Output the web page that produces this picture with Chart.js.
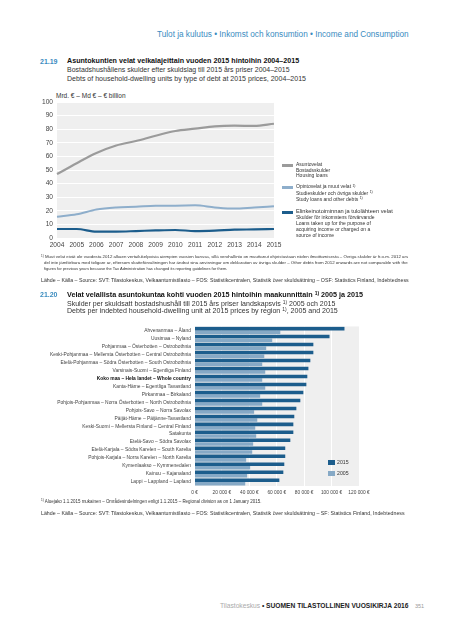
<!DOCTYPE html>
<html>
<head>
<meta charset="utf-8">
<script src="https://cdn.jsdelivr.net/npm/chart.js@4.4.0/dist/chart.umd.min.js"></script>
<style>
body { margin: 0; background: #fff; font-family: 'Liberation Sans', Arial, sans-serif; }
#page { position: relative; width: 450px; height: 640px; overflow: hidden; }
.t { position: absolute; white-space: nowrap; line-height: 1; color: #333; }
.b { font-weight: bold; color: #111; }
.blue { color: #3b8cbf; }
.sup { font-size: 0.7em; position: relative; top: -0.45em; }
.sw { position: absolute; }
#lineBox { position: absolute; left: 30px; top: 94px; width: 255px; height: 161px; }
#barBox { position: absolute; left: 36px; top: 320px; width: 340px; height: 180px; }
</style>
</head>
<body>
<div id="page">
  <div class="t blue" data-x="157" data-cy="35" data-w="252" style="font-size:7.5px">Tulot ja kulutus • Inkomst och konsumtion • Income and Consumption</div>

  <div class="t b blue" data-x="40" data-cy="62" style="font-size:7px">21.19</div>
  <div class="t b" data-x="67" data-cy="62" data-w="233" style="font-size:7px">Asuntokuntien velat velkalajeittain vuoden 2015 hintoihin 2004–2015</div>
  <div class="t" data-x="67" data-cy="70.5" data-w="223" style="font-size:6.3px">Bostadshushållens skulder efter skuldslag till 2015 års priser 2004–2015</div>
  <div class="t" data-x="67" data-cy="79" data-w="240" style="font-size:6.3px">Debts of household-dwelling units by type of debt at 2015 prices, 2004–2015</div>
  <div class="t" data-x="56" data-cy="96.7" data-w="70" style="font-size:5.6px">Mrd. € – Md € – € billion</div>

  <div id="lineBox"><canvas id="lineChart"></canvas></div>

  <div class="sw" style="left:282px;top:164px;width:11px;height:2.5px;background:#9b9b9b"></div>
  <div class="t" data-x="296" data-cy="165" style="font-size:5px">Asuntovelat</div>
  <div class="t" data-x="296" data-cy="170.5" style="font-size:5px">Bostadsskulder</div>
  <div class="t" data-x="296" data-cy="176" style="font-size:5px">Housing loans</div>

  <div class="sw" style="left:282px;top:186px;width:11px;height:2.5px;background:#8eaecb"></div>
  <div class="t" data-x="296" data-cy="187" style="font-size:5px">Opintovelat ja muut velat <span class="sup">1)</span></div>
  <div class="t" data-x="296" data-cy="193.5" style="font-size:5px">Studieskulder och övriga skulder <span class="sup">1)</span></div>
  <div class="t" data-x="296" data-cy="199.3" style="font-size:5px">Study loans and other debts <span class="sup">1)</span></div>

  <div class="sw" style="left:282px;top:211px;width:11px;height:2.5px;background:#1c5d8c"></div>
  <div class="t" data-x="296" data-cy="212.3" data-w="97" style="font-size:5px">Elinkeinotoiminnan ja tulolähteen velat</div>
  <div class="t" data-x="296" data-cy="218" style="font-size:5px">Skulder för inkomstens förvärvande</div>
  <div class="t" data-x="296" data-cy="224" style="font-size:5px">Loans taken up for the purpose of</div>
  <div class="t" data-x="296" data-cy="230" style="font-size:5px">acquiring income or charged on a</div>
  <div class="t" data-x="296" data-cy="236" style="font-size:5px">source of income</div>

  <div class="t" data-x="41" data-cy="257.5" data-w="368" style="font-size:4px"><span class="sup">1)</span> Muut velat eivät ole vuodesta 2012 alkaen vertailukelpoisia aiempien vuosien kanssa, sillä verohallinto on muuttanut ohjeistustaan niiden ilmoittamisesta – Övriga skulder är fr.o.m. 2012 års</div>
  <div class="t" data-x="44" data-cy="263.8" data-w="365" style="font-size:4px">del inte jämförbara med tidigare år, eftersom skatteförvaltningen har ändrat sina anvisningar om deklaration av övriga skulder – Other debts from 2012 onwards are not comparable with the</div>
  <div class="t" data-x="44" data-cy="269.4" style="font-size:4px">figures for previous years because the Tax Administration has changed its reporting guidelines for them.</div>
  <div class="t" data-x="41" data-cy="281" data-w="368" style="font-size:4.5px">Lähde – Källa – Source: SVT: Tilastokeskus, Velkaantumistilasto – FOS: Statistikcentralen, Statistik över skuldsättning – OSF: Statistics Finland, Indebtedness</div>

  <div class="t b blue" data-x="40" data-cy="295" style="font-size:7px">21.20</div>
  <div class="t b" data-x="67" data-cy="295" data-w="296" style="font-size:7px">Velat velallista asuntokuntaa kohti vuoden 2015 hintoihin maakunnittain <span class="sup">1)</span> 2005 ja 2015</div>
  <div class="t" data-x="67" data-cy="303.7" data-w="269" style="font-size:6.3px">Skulder per skuldsatt bostadshushåll till 2015 års priser landskapsvis <span class="sup">1)</span> 2005 och 2015</div>
  <div class="t" data-x="67" data-cy="311.5" data-w="271" style="font-size:6.3px">Debts per indebted household-dwelling unit at 2015 prices by region <span class="sup">1)</span>, 2005 and 2015</div>

  <div id="barBox"><canvas id="barChart"></canvas></div>

  <div class="sw" style="left:328px;top:460px;width:6.5px;height:5px;background:#1c5d8c"></div>
  <div class="t" data-x="337" data-cy="462.3" style="font-size:5.2px">2015</div>
  <div class="sw" style="left:328px;top:471px;width:6.5px;height:5px;background:#86a9c6"></div>
  <div class="t" data-x="337" data-cy="473.5" style="font-size:5.2px">2005</div>

  <div class="t" data-x="41" data-cy="502" data-w="221" style="font-size:4.3px"><span class="sup">1)</span> Aluejako 1.1.2015 mukainen – Områdesindelningen enligt 1.1.2015 – Regional division as on 1 January 2015.</div>
  <div class="t" data-x="41" data-cy="514" data-w="364" style="font-size:4.5px">Lähde – Källa – Source: SVT: Tilastokeskus, Velkaantumistilasto – FOS: Statistikcentralen, Statistik över skuldsättning – SF: Statistics Finland, Indebtedness</div>

  <div class="t" data-x="220" data-cy="607" data-w="189" style="font-size:6px"><span style="color:#aaa">Tilastokeskus</span> <b style="color:#222">• SUOMEN TILASTOLLINEN VUOSIKIRJA 2016</b></div>
  <div class="t" data-x="415" data-cy="607" style="font-size:5.5px;color:#999">351</div>
</div>

<script>
// line chart data (billion €)
const years = ['2004', '2005', '2006', '2007', '2008', '2009', '2010', '2011', '2012', '2013', '2014', '2015'];
const housingLoans = [47, 55, 62.5, 68, 71.3, 75.2, 78.7, 80.4, 82.1, 82.6, 82.4, 84];
const studyLoans = [15.7, 17.4, 21, 22.5, 23, 23.8, 23.8, 24, 22.5, 21.6, 22.5, 23.3];
const businessLoans = [6.6, 6.6, 4.7, 4.7, 5.1, 5.6, 5.9, 5.1, 5.4, 6.1, 6.3, 6.6];
const lineTicks = [0, 10, 20, 30, 40, 50, 60, 70, 80, 90, 100];

// bar chart data (€ per household)
const regions = [
    'Ahvenanmaa – Åland',
    'Uusimaa – Nyland',
    'Pohjanmaa – Österbotten – Ostrobothnia',
    'Keski-Pohjanmaa – Mellersta Österbotten – Central Ostrobothnia',
    'Etelä-Pohjanmaa – Södra Österbotten – South Ostrobothnia',
    'Varsinais-Suomi – Egentliga Finland',
    'Koko maa – Hela landet – Whole country',
    'Kanta-Häme – Egentliga Tavastland',
    'Pirkanmaa – Birkaland',
    'Pohjois-Pohjanmaa – Norra Österbotten – North Ostrobothnia',
    'Pohjois-Savo – Norra Savolax',
    'Päijät-Häme – Päijänne-Tavastland',
    'Keski-Suomi – Mellersta Finland – Central Finland',
    'Satakunta',
    'Etelä-Savo – Södra Savolax',
    'Etelä-Karjala – Södra Karelen – South Karelia',
    'Pohjois-Karjala – Norra Karelen – North Karelia',
    'Kymenlaakso – Kymmenedalen',
    'Kainuu – Kajanaland',
    'Lappi – Lappland – Lapland'
];
const debts2015 = [109400, 98500, 86700, 86700, 84500, 83100, 82300, 81600, 79400, 77200, 74300, 72800, 72100, 72100, 69900, 66200, 66200, 65500, 64800, 61900];
const debts2005 = [62600, 56700, 52300, 50900, 49400, 51600, 49400, 51600, 47900, 49400, 43500, 45800, 44300, 45000, 42800, 42100, 37700, 40600, 38400, 37000];
const barTicks = [0, 20000, 40000, 60000, 80000, 100000, 120000];

// place the page texts by their centre line
document.querySelectorAll('.t').forEach(el => {
    let fs = parseFloat(el.style.fontSize);
    if (el.dataset.w) {
        fs = fs * parseFloat(el.dataset.w) / el.offsetWidth;
        el.style.fontSize = fs + 'px';
    }
    el.style.left = el.dataset.x + 'px';
    el.style.top = (parseFloat(el.dataset.cy) - 0.53 * fs) + 'px';
});

Chart.defaults.font.family = "'Liberation Sans', Arial, sans-serif";
Chart.defaults.color = '#444';

const plotBg = {
    id: 'plotBg',
    beforeDraw(chart) {
        const {ctx, chartArea: a} = chart;
        ctx.save();
        ctx.fillStyle = '#efefef';
        ctx.fillRect(a.left, a.top, a.right - a.left, a.bottom - a.top);
        ctx.restore();
    }
};

new Chart(document.getElementById('lineChart'), {
    type: 'line',
    data: {
        labels: years,
        datasets: [
            {data: housingLoans, borderColor: '#9b9b9b', borderWidth: 2.2},
            {data: studyLoans, borderColor: '#8eaecb', borderWidth: 2},
            {data: businessLoans, borderColor: '#1c5d8c', borderWidth: 2.2}
        ]
    },
    options: {
        responsive: true,
        maintainAspectRatio: false,
        animation: false,
        layout: {padding: {top: 8, right: 11, left: 0, bottom: 0}},
        elements: {point: {radius: 0}, line: {cubicInterpolationMode: 'monotone'}},
        plugins: {legend: {display: false}, tooltip: {enabled: false}},
        scales: {
            x: {
                offset: false,
                grid: {display: false, drawTicks: false},
                border: {display: false},
                ticks: {font: {size: 6.6}, padding: 3.7, maxRotation: 0, autoSkip: false},
                afterFit: s => { s.height = 17; }
            },
            y: {
                min: 0, max: 100,
                afterBuildTicks: s => { s.ticks = lineTicks.map(v => ({value: v})); },
                grid: {color: '#ffffff', lineWidth: 1, drawTicks: false},
                border: {display: false},
                ticks: {font: {size: 6.6}, padding: 4},
                afterFit: s => { s.width = 27; }
            }
        }
    },
    plugins: [plotBg]
});

new Chart(document.getElementById('barChart'), {
    type: 'bar',
    data: {
        labels: regions,
        datasets: [
            {label: '2015', data: debts2015, backgroundColor: '#1c5d8c'},
            {label: '2005', data: debts2005, backgroundColor: '#86a9c6'}
        ]
    },
    options: {
        indexAxis: 'y',
        responsive: true,
        maintainAspectRatio: false,
        animation: false,
        categoryPercentage: 0.9,
        barPercentage: 0.98,
        layout: {padding: {top: 6, right: 17, left: 0, bottom: 0}},
        plugins: {legend: {display: false}, tooltip: {enabled: false}},
        scales: {
            x: {
                min: 0, max: 120000,
                afterBuildTicks: s => { s.ticks = barTicks.map(v => ({value: v})); },
                grid: {color: '#ffffff', lineWidth: 1, drawTicks: false},
                border: {display: false},
                ticks: {
                    font: {size: 4.8},
                    padding: 3.5,
                    maxRotation: 0,
                    callback: v => v.toLocaleString('fi-FI').replace(/\s/g, ' ') + ' €'
                },
                afterFit: s => { s.height = 14; }
            },
            y: {
                grid: {display: false, drawTicks: false},
                border: {display: false},
                ticks: {
                    autoSkip: false,
                    padding: 3.5,
                    font: c => ({size: 4.9, weight: c.index === 6 ? 'bold' : 'normal'}),
                    color: c => c.index === 6 ? '#111' : '#444'
                },
                afterFit: s => { s.width = 158.5; }
            }
        }
    },
    plugins: [plotBg]
});
</script>
</body>
</html>
